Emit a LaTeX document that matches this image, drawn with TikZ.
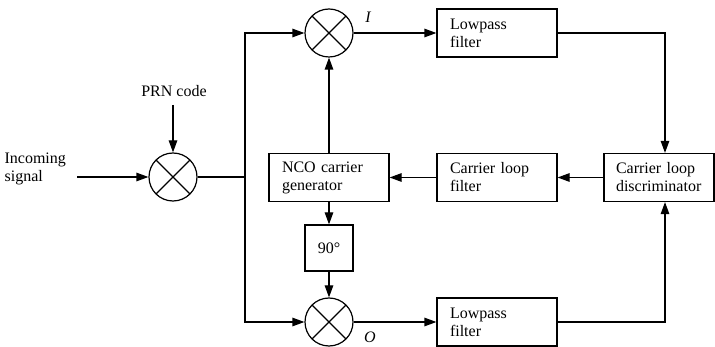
\documentclass[tikz,border=0pt]{standalone}
\usepackage{fontspec}
\setmainfont{Liberation Serif}
\usetikzlibrary{arrows.meta}
\begin{document}
\begin{tikzpicture}[x=1pt,y=-1pt,
  line width=1.2pt,
  >={Triangle[length=12pt,width=8.5pt]},
  txt/.style={font=\fontsize{16}{18}\selectfont},
  blk/.style={draw, rectangle, minimum height=48pt, inner sep=0pt, align=left, txt},
  mix/.style={draw, circle, minimum size=48pt, inner sep=0pt,
    path picture={\draw (path picture bounding box.north west) -- (path picture bounding box.south east)
                        (path picture bounding box.north east) -- (path picture bounding box.south west);}},
  lbl/.style={txt, inner sep=0pt}
]
\useasboundingbox (0,0) rectangle (715,347);

% mixers
\node[mix] (mixP) at (173,177) {};
\node[mix] (mixI) at (329,33) {};
\node[mix] (mixQ) at (329,322) {};

% blocks
\node[blk, minimum width=120pt, text width=94pt] (lp1) at (497,33) {Lowpass\\filter};
\node[blk, minimum width=120pt, text width=94pt] (lp2) at (497,322) {Lowpass\\filter};
\node[blk, minimum width=120pt, text width=94pt] (clf) at (497,177.5) {Carrier loop\\filter};
\node[blk, minimum width=110pt, text width=86pt] (disc) at (659,177.5) {Carrier loop\\discriminator};
\node[blk, minimum width=120pt, text width=94pt] (nco) at (329,177.5) {NCO carrier\\generator};
\node[blk, minimum width=48pt, minimum height=46pt, align=center] (ph) at (329,248) {90°};

% labels
\node[lbl, align=left, anchor=west] (inc) at (4,169) {Incoming\\signal};
\node[lbl] (prn) at (174,91) {PRN code};
\node[lbl, font=\fontsize{16}{18}\selectfont\itshape] (li) at (368,17) {I};
\node[lbl, font=\fontsize{16}{18}\selectfont\itshape] (lo) at (370,337) {O};

% coordinates
\coordinate (inS) at (77,177);
\coordinate (prnS) at (173,105);
\coordinate (bj) at (245,177);

% connectors
\draw[->] (inS) -- (mixP);
\draw[->] (prnS) -- (mixP);
\draw (mixP) -- (bj);
\draw[->] (bj) |- (mixI);
\draw[->] (bj) |- (mixQ);
\draw[->] (mixI) -- (lp1);
\draw[->] (mixQ) -- (lp2);
\draw[->] (lp1.east) -| ([xshift=6pt]disc.north);
\draw[->] (lp2.east) -| ([xshift=6pt]disc.south);
\draw[->] (disc) -- (clf);
\draw[->] (clf) -- (nco);
\draw[->] (nco) -- (mixI);
\draw[->] (nco) -- (ph);
\draw[->] (ph) -- (mixQ);
\end{tikzpicture}
\end{document}
